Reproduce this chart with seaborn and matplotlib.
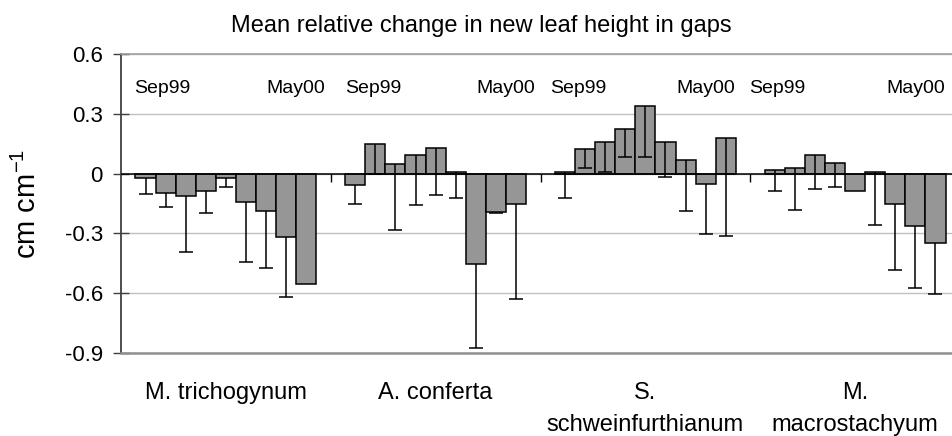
import numpy as np
import pandas as pd
import matplotlib
matplotlib.use('Agg')
import matplotlib.pyplot as plt
import seaborn as sns

# species (categories) and survey months (one bar per month)
SPECIES = ['M. trichogynum', 'A. conferta', 'S.\nschweinfurthianum', 'M.\nmacrostachyum']
MONTHS = ['Sep99', 'Oct99', 'Nov99', 'Dec99', 'Jan00', 'Feb00', 'Mar00', 'Apr00', 'May00']

# mean relative change, one list per species, Sep99 -> May00
MEAN_TRICHOGYNUM = [-0.020, -0.095, -0.113, -0.085, -0.020, -0.142, -0.190, -0.320, -0.555]
MEAN_CONFERTA = [-0.058, 0.150, 0.047, 0.092, 0.130, 0.007, -0.455, -0.192, -0.153]
MEAN_SCHWEIN = [0.007, 0.122, 0.158, 0.225, 0.337, 0.158, 0.067, -0.050, 0.177]
MEAN_MACRO = [0.017, 0.030, 0.092, 0.055, -0.087, 0.007, -0.153, -0.265, -0.348]

# standard errors (only the lower bar is shown); nan = no bar
SE_TRICHOGYNUM = [0.083, 0.075, 0.282, 0.113, 0.047, 0.300, 0.282, 0.300, np.nan]
SE_CONFERTA = [0.094, 0.150, 0.330, 0.252, 0.235, 0.130, 0.420, 0.006, 0.477]
SE_SCHWEIN = [0.130, 0.095, 0.151, 0.142, 0.254, 0.176, 0.257, 0.252, 0.489]
SE_MACRO = [0.104, 0.212, 0.170, 0.122, np.nan, 0.264, 0.329, 0.310, 0.257]

Y_TICKS = [-0.9, -0.6, -0.3, 0.0, 0.3, 0.6]

# where the "Sep99" / "May00" notes sit in each group (data x)
SEP_X = [-0.436, 0.568, 1.545, 2.493]
MAY_X = [0.472, 1.473, 2.427, 3.427]

means = [MEAN_TRICHOGYNUM, MEAN_CONFERTA, MEAN_SCHWEIN, MEAN_MACRO]
ses = [SE_TRICHOGYNUM, SE_CONFERTA, SE_SCHWEIN, SE_MACRO]

rows = []
for sp, m_list, s_list in zip(SPECIES, means, ses):
    for mon, m, s in zip(MONTHS, m_list, s_list):
        rows.append({'species': sp, 'month': mon, 'mean': m, 'se': s})
df = pd.DataFrame(rows)

sns.set_style('white')
plt.rcParams['font.family'] = ['Liberation Sans', 'DejaVu Sans']
plt.rcParams['axes.unicode_minus'] = False
plt.rcParams['mathtext.default'] = 'regular'
plt.rcParams['text.color'] = 'black'
plt.rcParams['xtick.color'] = 'black'
plt.rcParams['ytick.color'] = 'black'
plt.rcParams['axes.labelcolor'] = 'black'

W, H = 952, 436
fig = plt.figure(figsize=(W / 100, H / 100), dpi=100)
ax = fig.add_axes([121 / W, 1 - 353 / H, 839 / W, 299 / H])

sns.barplot(data=df, x='species', y='mean', hue='month', order=SPECIES,
            hue_order=MONTHS, palette=['#969696'] * len(MONTHS),
            width=0.862, gap=0, errorbar=None, legend=False,
            edgecolor='black', linewidth=1.1, saturation=1, ax=ax, zorder=2)

# lower-only error bars drawn from the bar positions seaborn made
for month, bars in zip(MONTHS, ax.containers):
    sub = df[df['month'] == month].set_index('species').loc[SPECIES]
    xs = np.array([b.get_x() + b.get_width() / 2 for b in bars])
    ys = sub['mean'].to_numpy()
    se = sub['se'].to_numpy()
    ok = ~np.isnan(se)
    ax.vlines(xs[ok], ys[ok] - se[ok], ys[ok], color='black', lw=1.1, zorder=3)
    ax.plot(xs[ok], ys[ok] - se[ok], ls='none', marker='_', markersize=10,
            markeredgewidth=1.1, color='black', zorder=3)

ax.axhline(0, color='black', lw=1.1, zorder=4)
# category-axis tick marks between species groups
ax.vlines(np.arange(len(SPECIES) - 1) + 0.5, -0.04, 0, color='black', lw=1, zorder=4)

for x in SEP_X:
    ax.text(x, 0.406, 'Sep99', ha='left', va='baseline', fontsize=14)
for x in MAY_X:
    ax.text(x, 0.406, 'May00', ha='right', va='baseline', fontsize=14)

ax.set_xlim(-0.5, len(SPECIES) - 0.5)
ax.set_ylim(-0.9, 0.6)
ax.set_yticks(Y_TICKS)
ax.set_yticklabels(['0' if abs(v) < 1e-9 else f'{v:.1f}' for v in Y_TICKS])
ax.yaxis.grid(True, color='#c0c0c0', lw=1)
ax.set_axisbelow(True)

ax.tick_params(axis='y', left=True, direction='inout', length=12, width=1,
               color='#404040', pad=7, labelsize=16)
ax.tick_params(axis='x', length=0, pad=21, labelsize=17)
for t in ax.get_xticklabels():
    t.set_linespacing(1.6)

ax.set_xlabel('')
ax.set_ylabel('')
ax.text(-0.111, 0.5, 'cm cm$^{-1}$', rotation=90, ha='center', va='center',
        fontsize=21, transform=ax.transAxes)

ax.spines['right'].set_visible(False)
ax.spines['left'].set_color('#404040')
ax.spines['left'].set_linewidth(1.3)
ax.spines['top'].set_color('#a0a0a0')
ax.spines['top'].set_linewidth(1.2)
ax.spines['bottom'].set_color('#909090')
ax.spines['bottom'].set_linewidth(1.8)

fig.text(481 / W, 1 - 32 / H, 'Mean relative change in new leaf height in gaps',
         ha='center', va='baseline', fontsize=17)

fig.savefig('out.png', dpi=100)
